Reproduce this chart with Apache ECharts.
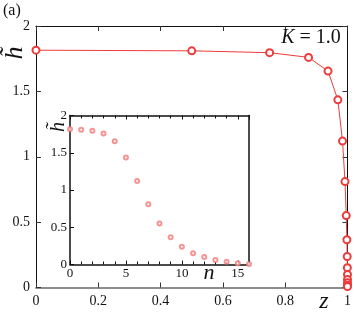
<!DOCTYPE html>
<html><head><meta charset="utf-8">
<script src="https://cdn.jsdelivr.net/npm/echarts@6/dist/echarts.min.js"></script>
<style>html,body{margin:0;padding:0;background:#fff}#c{width:354px;height:312px}</style>
</head><body><div id="c"></div>
<script>
// Data
const nValues = [0,1,2,3,4,5,6,7,8,9,10,11,12,13,14,15,16];
const hValues = [1.815,1.81,1.796,1.76,1.655,1.435,1.12,0.81,0.55,0.365,0.237,0.152,0.10,0.062,0.036,0.018,0.008];
const zValues = [0,0.5,0.75,0.875,0.9375,0.969,0.984,0.992,0.996,0.998,0.999,0.9995,1,1,1,1,1];
const mainXTicks = ['0','0.2','0.4','0.6','0.8','1'];
const mainYTicks = ['0','0.5','1','1.5','2'];
const insetXTicks = ['0','5','10','15'];

const serif = 'Liberation Serif';
const red = '#ee3b3b';
const chart = echarts.init(document.getElementById('c'), null, {renderer:'canvas'});
const mainPairs = zValues.map((z,i)=>[z,hValues[i]]);
const insetPairs = nValues.map((n,i)=>[n,hValues[i]]);

function ax(o){return Object.assign({type:'value',splitLine:{show:false}},o);}
function line(color,width){return {show:true,onZero:false,lineStyle:{color:color,width:width}};}

chart.setOption({
  animation:false,
  backgroundColor:'#fff',
  grid:[
    {left:36,top:26,width:314,height:261.5,containLabel:false},
    {left:70,top:115.5,width:179,height:149,containLabel:false}
  ],
  xAxis:[
    ax({gridIndex:0,min:0,max:1,interval:0.2,position:'bottom',
      axisLine:line('#8c8c8c',2),
      axisTick:{inside:true,length:5,lineStyle:{color:'#333'}},
      axisLabel:{color:'#111',fontFamily:serif,fontSize:14,margin:7,formatter:v=>mainXTicks[Math.round(v*5)]}}),
    ax({gridIndex:0,min:0,max:1,interval:0.2,position:'top',
      axisLine:line('#111',1),
      axisTick:{inside:true,length:5,lineStyle:{color:'#333'}},axisLabel:{show:false}}),
    ax({gridIndex:1,min:0,max:16,interval:5,position:'bottom',
      axisLine:line('#111',1.5),
      axisTick:{inside:true,length:4,lineStyle:{color:'#111'}},
      minorTick:{show:true,splitNumber:5,length:3,lineStyle:{color:'#111'}},
      axisLabel:{color:'#111',fontFamily:serif,fontSize:13,margin:3,showMaxLabel:false,formatter:v=>insetXTicks[v/5]}}),
    ax({gridIndex:1,min:0,max:16,interval:5,position:'top',
      axisLine:line('#111',1.5),
      axisTick:{inside:true,length:4,lineStyle:{color:'#111'}},
      minorTick:{show:true,splitNumber:5,length:3,lineStyle:{color:'#111'}},
      axisLabel:{show:false}})
  ],
  yAxis:[
    ax({gridIndex:0,min:0,max:2,interval:0.5,position:'left',
      axisLine:line('#111',1),
      axisTick:{show:true,inside:true,length:5,lineStyle:{color:'#333'}},
      axisLabel:{color:'#111',fontFamily:serif,fontSize:14,margin:6,formatter:v=>mainYTicks[Math.round(v*2)]}}),
    ax({gridIndex:0,min:0,max:2,interval:0.5,position:'right',
      axisLine:line('#111',1),
      axisTick:{show:true,inside:true,length:5,lineStyle:{color:'#333'}},axisLabel:{show:false}}),
    ax({gridIndex:1,min:0,max:2,interval:0.5,position:'left',
      axisLine:line('#111',1.5),
      axisTick:{show:true,inside:true,length:4,lineStyle:{color:'#111'}},
      axisLabel:{color:'#111',fontFamily:serif,fontSize:13,margin:3,formatter:v=>mainYTicks[Math.round(v*2)]}}),
    ax({gridIndex:1,min:0,max:2,interval:0.5,position:'right',
      axisLine:line('#111',1.5),
      axisTick:{show:false},axisLabel:{show:false}})
  ],
  series:[
    {type:'line',xAxisIndex:0,yAxisIndex:0,data:mainPairs,symbol:'emptyCircle',symbolSize:7,
      lineStyle:{color:red,width:1},itemStyle:{color:red,borderColor:red,borderWidth:0.9},z:3},
    {type:'scatter',xAxisIndex:2,yAxisIndex:2,data:insetPairs,symbol:'emptyCircle',symbolSize:4,
      itemStyle:{color:'#f27a7a',borderColor:'#f27a7a',borderWidth:0.8},z:7}
  ],
  graphic:[
    {type:'text',left:3,top:3,z:10,style:{text:'(a)',fontFamily:serif,fontSize:16,fill:'#111'}},
    {type:'text',x:311,y:38,z:10,style:{text:'{i|K} = 1.0',align:'center',verticalAlign:'middle',
      fontFamily:serif,fontSize:20,fill:'#111',
      rich:{i:{fontFamily:serif,fontSize:20,fontStyle:'italic',fill:'#111'}}}},
    {type:'text',x:15,y:53,rotation:Math.PI/2,z:10,style:{text:'h\u0303',align:'center',verticalAlign:'middle',fontFamily:serif,fontStyle:'italic',fontSize:26,fill:'#111'}},
    {type:'text',x:59,y:127,rotation:Math.PI/2,z:10,style:{text:'h\u0303',align:'center',verticalAlign:'middle',fontFamily:serif,fontStyle:'italic',fontSize:20,fill:'#111'}},
    {type:'text',x:324,y:302,z:10,style:{text:'z',align:'center',verticalAlign:'middle',fontFamily:serif,fontStyle:'italic',fontSize:24,fill:'#111'}},
    {type:'text',x:209,y:273,z:10,style:{text:'n',align:'center',verticalAlign:'middle',fontFamily:serif,fontStyle:'italic',fontSize:22,fill:'#111'}}
  ]
});
</script></body></html>
